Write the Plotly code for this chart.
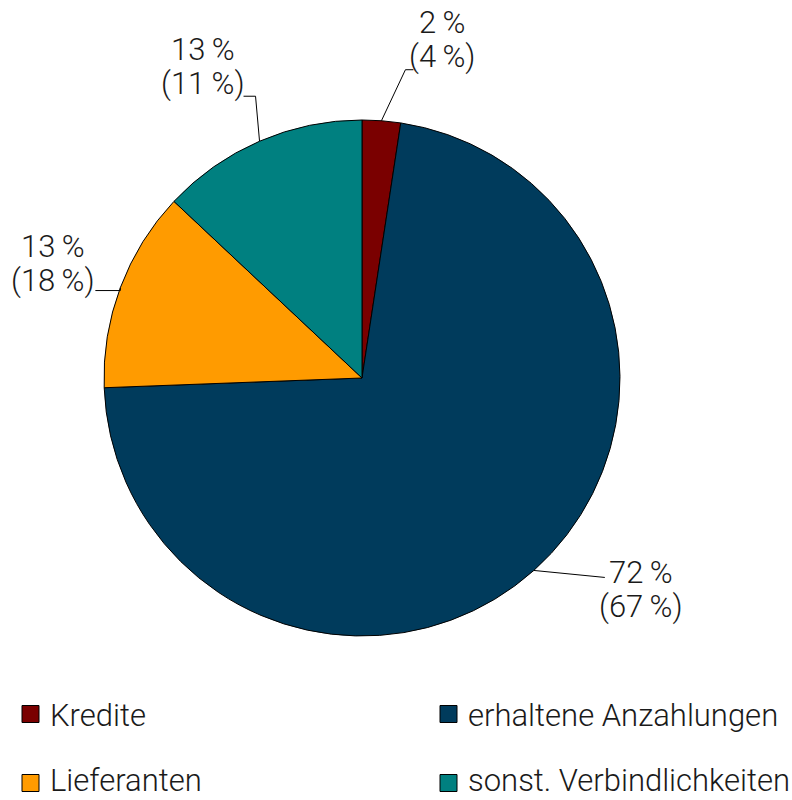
import plotly.graph_objects as go
import math

# ---- data ----
categories = ["Kredite", "erhaltene Anzahlungen", "Lieferanten", "sonst. Verbindlichkeiten"]
values = [2.4, 72.0, 12.6, 13.0]
label_current = ["2\u2009%", "72\u2009%", "13\u2009%", "13\u2009%"]
label_prior = ["(4\u2009%)", "(67\u2009%)", "(18\u2009%)", "(11\u2009%)"]
colors = ["#7A0000", "#003B5C", "#FF9B00", "#008080"]

# ---- layout config (pixels) ----
W, H = 792, 800
cx, cy, R = 362, 378, 258
FONT = dict(family="Roboto, 'Liberation Sans', sans-serif", size=31, color="#1a1a1a", weight=300)
LINE_GAP = 34
# per label: elbow offset, end offset, text-center offset (relative to slice mid-point on rim)
leader_cfg = [
    dict(elbow=(24, -51), end=(32, -51), text=(61, -81)),
    dict(elbow=(71, 7), end=(71, 7), text=(107, 19)),
    dict(elbow=(0, 3), end=(-25, 3), text=(-67, -24)),
    dict(elbow=(-4, -45), end=(-16, -45), text=(-57, -75)),
]
legend_pos = [(22, 714), (440, 714), (22, 783), (440, 783)]
SQ = 17


def px(x):
    return x / W


def py(y):
    return 1 - y / H


fig = go.Figure()
fig.add_trace(go.Pie(
    labels=categories,
    values=values,
    sort=False,
    direction="clockwise",
    rotation=0,
    marker=dict(colors=colors, line=dict(color="black", width=1)),
    textinfo="none",
    hoverinfo="label+percent",
    showlegend=False,
    domain=dict(x=[px(cx - R), px(cx + R)], y=[py(cy + R), py(cy - R)]),
))

total = sum(values)
cum = 0.0
shapes = []
annotations = []
for i, v in enumerate(values):
    mid = (cum + v / 2) / total * 2 * math.pi
    cum += v
    ax = cx + R * math.sin(mid)
    ay = cy - R * math.cos(mid)
    cfg = leader_cfg[i]
    ex, ey = ax + cfg["elbow"][0], ay + cfg["elbow"][1]
    nx, ny = ax + cfg["end"][0], ay + cfg["end"][1]
    path = f"M {px(ax)},{py(ay)} L {px(ex)},{py(ey)} L {px(nx)},{py(ny)}"
    shapes.append(dict(type="path", xref="paper", yref="paper", path=path,
                       line=dict(color="black", width=1)))
    tx, ty = ax + cfg["text"][0], ay + cfg["text"][1]
    for txt, dy in ((label_current[i], -LINE_GAP / 2), (label_prior[i], LINE_GAP / 2)):
        annotations.append(dict(x=px(tx), y=py(ty + dy), xref="paper", yref="paper",
                                text=txt, showarrow=False, xanchor="center", yanchor="middle",
                                align="center", font=FONT))

# legend
for i, name in enumerate(categories):
    lx, ly = legend_pos[i]
    shapes.append(dict(type="rect", xref="paper", yref="paper",
                       x0=px(lx), x1=px(lx + SQ), y0=py(ly - SQ / 2), y1=py(ly + SQ / 2),
                       fillcolor=colors[i], line=dict(color="black", width=1)))
    ann = dict(x=px(lx + SQ + 10), xref="paper", yref="paper",
               text=name, showarrow=False, xanchor="left", borderpad=0, font=FONT)
    if i < 2:
        ann.update(y=py(ly + 1), yanchor="middle")
    else:
        ann.update(y=0, yanchor="bottom")
    annotations.append(ann)

fig.update_layout(
    width=W, height=H, autosize=False,
    margin=dict(l=0, r=0, t=0, b=0),
    paper_bgcolor="white", plot_bgcolor="white",
    shapes=shapes, annotations=annotations,
    showlegend=False,
)
fig.write_html("out.html", config={"displayModeBar": False},
               post_script="document.body.style.margin='0';document.body.style.overflow='hidden';")
